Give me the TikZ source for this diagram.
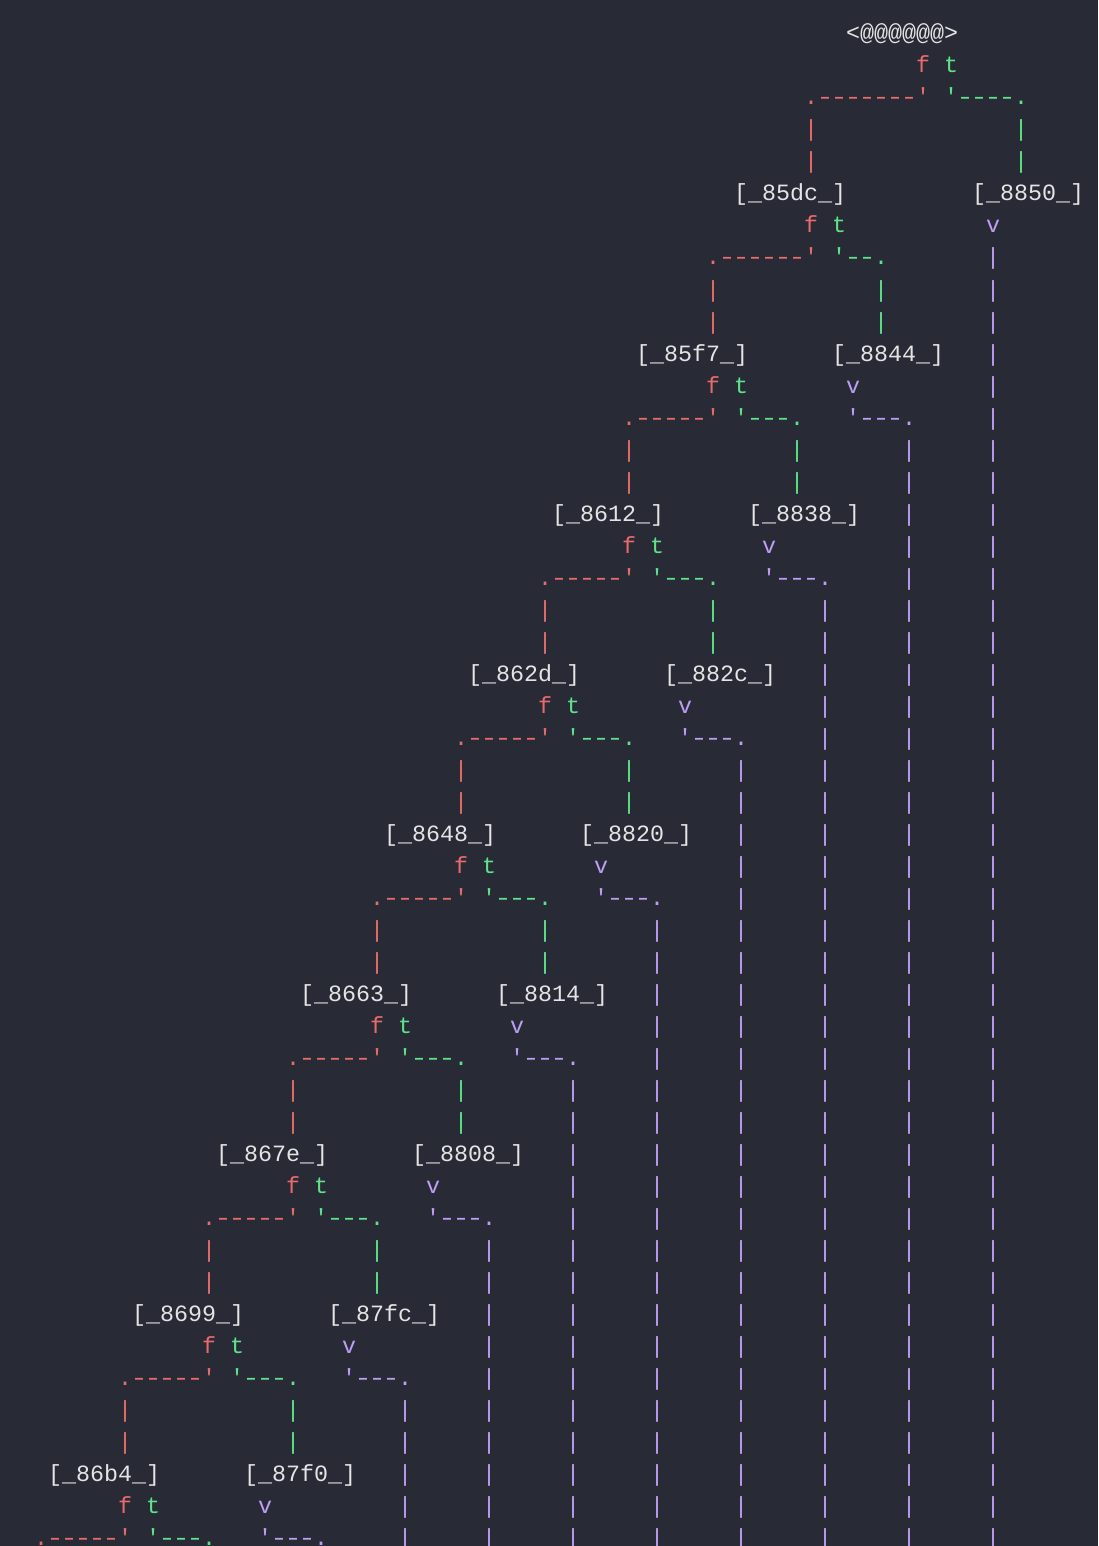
\documentclass[tikz,border=0pt]{standalone}
\usepackage{fontspec}
\usepackage{graphicx}
\setmonofont{Liberation Mono}
\usetikzlibrary{positioning}

\definecolor{bgdark}{HTML}{282A36}
\definecolor{txtwhite}{HTML}{E4E4E4}
\definecolor{falsered}{HTML}{EA6B6B}
\definecolor{truegreen}{HTML}{5EE38A}
\definecolor{nextviolet}{HTML}{BE9EF4}

% a hyphen that fills its cell a little more
\newcommand\dsh{\makebox[0.6em]{\scalebox{1.25}[1]{-}}}

\tikzset{
	ch/.style={font=\ttfamily\fontsize{23.33}{32}\selectfont, inner sep=0pt, anchor=base west},
	blk/.style={ch, text=txtwhite},
	fb/.style={ch, text=falsered},
	tb/.style={ch, text=truegreen},
	vb/.style={ch, text=nextviolet}
}

\begin{document}
\begin{tikzpicture}
	\useasboundingbox[fill=bgdark] (0,0) rectangle (1098pt,-1546pt);
	\begin{scope}[shift={(6pt,-41pt)}, x=14pt, y=-32pt]
		% entry block
		\node[blk]	(entry)		at (60,0)	{<@@@@@@>};
		\node[fb]	(fentry)	at (65,1)	{f};
		\node[tb]	(tentry)	at (67,1)	{t};
		\node[fb]	(lentry)	at (57,2)	{.\dsh\dsh\dsh\dsh\dsh\dsh\dsh'};
		\node[tb]	(rentry)	at (67,2)	{'\dsh\dsh\dsh\dsh.};
		\foreach \r in {3,4}{
			\node[fb]	(pentry-\r)	at (57,\r)	{|};
			\node[tb]	(qentry-\r)	at (72,\r)	{|};
		}

		% first split
		\node[blk]	(b85dc)		at (52,5)	{[\_85dc\_]};
		\node[blk]	(b8850)		at (69,5)	{[\_8850\_]};
		\node[fb]	(f85dc)		at (57,6)	{f};
		\node[tb]	(t85dc)		at (59,6)	{t};
		\node[vb]	(v8850)		at (70,6)	{v};
		\node[fb]	(l85dc)		at (50,7)	{.\dsh\dsh\dsh\dsh\dsh\dsh'};
		\node[tb]	(r85dc)		at (59,7)	{'\dsh\dsh.};
		\foreach \r in {8,9}{
			\node[fb]	(p85dc-\r)	at (50,\r)	{|};
			\node[tb]	(q85dc-\r)	at (62,\r)	{|};
		}
		\foreach \r in {7,...,47}
			\node[vb]	(w8850-\r)	at (70,\r)	{|};

		% false chain
		\foreach \s/\r/\h in {45/10/85f7, 39/15/8612, 33/20/862d, 27/25/8648,
				21/30/8663, 15/35/867e, 9/40/8699, 3/45/86b4}{
			\node[blk]	(b\h)	at (\s,\r)		{[\_\h\_]};
			\node[fb]	(f\h)	at (\s+5,\r+1)	{f};
			\node[tb]	(t\h)	at (\s+7,\r+1)	{t};
			\node[fb]	(l\h)	at (\s-1,\r+2)	{.\dsh\dsh\dsh\dsh\dsh'};
			\node[tb]	(r\h)	at (\s+7,\r+2)	{'\dsh\dsh\dsh.};
			\ifnum\r<45
				\node[fb]	(p\h-a)	at (\s-1,\r+3)	{|};
				\node[fb]	(p\h-b)	at (\s-1,\r+4)	{|};
				\node[tb]	(q\h-a)	at (\s+11,\r+3)	{|};
				\node[tb]	(q\h-b)	at (\s+11,\r+4)	{|};
			\fi
		}

		% true side
		\foreach \s/\r/\h in {59/10/8844, 53/15/8838, 47/20/882c, 41/25/8820,
				35/30/8814, 29/35/8808, 23/40/87fc, 17/45/87f0}{
			\node[blk]	(b\h)	at (\s,\r)		{[\_\h\_]};
			\node[vb]	(v\h)	at (\s+1,\r+1)	{v};
			\node[vb]	(n\h)	at (\s+1,\r+2)	{'\dsh\dsh\dsh.};
			\pgfmathtruncatemacro\rowa{\r+3}
			\ifnum\rowa<48
				\foreach \k in {\rowa,...,47}
					\node[vb]	(w\h-\k)	at (\s+5,\k)	{|};
			\fi
		}
	\end{scope}
\end{tikzpicture}
\end{document}
